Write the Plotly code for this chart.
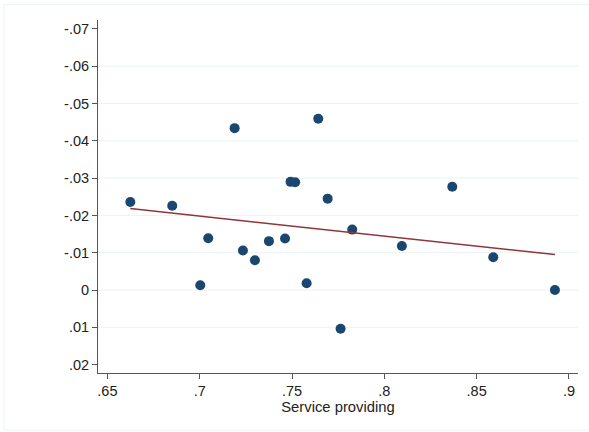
import numpy as np
import plotly.graph_objects as go

# Share of employment in service-providing industries vs. outcome
service_share = [0.6624, 0.6851, 0.7189, 0.7642, 0.7492, 0.7517, 0.7693, 0.7826,
                 0.7046, 0.7234, 0.7299, 0.7375, 0.7462, 0.7003, 0.7579, 0.8368,
                 0.8095, 0.8590, 0.8924, 0.7763]
outcome = [-0.0236, -0.0226, -0.0434, -0.0459, -0.0290, -0.0289, -0.0245, -0.0162,
           -0.0139, -0.0106, -0.0080, -0.0131, -0.0138, -0.0013, -0.0018, -0.0277,
           -0.0118, -0.0088, 0.0000, 0.0104]

x_ticks = [0.65, 0.70, 0.75, 0.80, 0.85, 0.90]
x_ticklabels = [".65", ".7", ".75", ".8", ".85", ".9"]
y_ticks = [-0.07, -0.06, -0.05, -0.04, -0.03, -0.02, -0.01, 0.0, 0.01, 0.02]
y_ticklabels = ["-.07", "-.06", "-.05", "-.04", "-.03", "-.02", "-.01", "0", ".01", ".02"]

# Linear fit across the observed range
slope, intercept = np.polyfit(service_share, outcome, 1)
fit_x = np.array([min(service_share), max(service_share)])
fit_y = intercept + slope * fit_x

NAVY = "#1a476f"
MAROON = "#90353b"
GRID = "#eaf2f3"
AXIS = "#555555"
FONT = "Liberation Sans, Arial, sans-serif"

fig = go.Figure()
fig.add_trace(go.Scatter(
    x=service_share, y=outcome, mode="markers",
    marker=dict(color=NAVY, size=10, line=dict(width=0)),
    showlegend=False, hoverinfo="skip",
))
fig.add_trace(go.Scatter(
    x=fit_x, y=fit_y, mode="lines",
    line=dict(color=MAROON, width=1.5),
    showlegend=False, hoverinfo="skip",
))

x_range = [0.6449, 0.9049]
y_range = [0.02225, -0.0724]

# Horizontal grid lines at the interior y ticks
shapes = []
for v in y_ticks[1:-1]:
    shapes.append(dict(type="line", xref="paper", yref="y", x0=0, x1=1, y0=v, y1=v,
                       line=dict(color=GRID, width=1), layer="below"))
# Thin outer frame around the graph region
shapes.append(dict(type="rect", xref="paper", yref="paper",
                   x0=(4 - 98) / 480, x1=(592 - 98) / 480,
                   y0=-(430 - 373) / 353, y1=1 + (20 - 4.5) / 353,
                   line=dict(color="#edf3f4", width=1), layer="below"))

fig.update_layout(
    width=589, height=432,
    margin=dict(l=98, r=11, t=20, b=59),
    paper_bgcolor="white", plot_bgcolor="white",
    font=dict(family=FONT, size=14, color="#222222"),
    shapes=shapes,
    xaxis=dict(
        range=x_range, tickvals=x_ticks, ticktext=x_ticklabels,
        showgrid=False, zeroline=False,
        showline=True, linecolor=AXIS, linewidth=1,
        ticks="outside", ticklen=5, tickcolor=AXIS,
        tickfont=dict(size=14.5, color="#222222"),
        title=dict(text="Service providing", font=dict(size=14.8, color="#222222"), standoff=1),
    ),
    yaxis=dict(
        range=y_range, tickvals=y_ticks, ticktext=y_ticklabels,
        showgrid=False, zeroline=False,
        showline=True, linecolor=AXIS, linewidth=1,
        ticks="outside", ticklen=5, tickcolor=AXIS,
        tickfont=dict(size=14.5, color="#222222"),
    ),
)

fig.write_html("out.html")
